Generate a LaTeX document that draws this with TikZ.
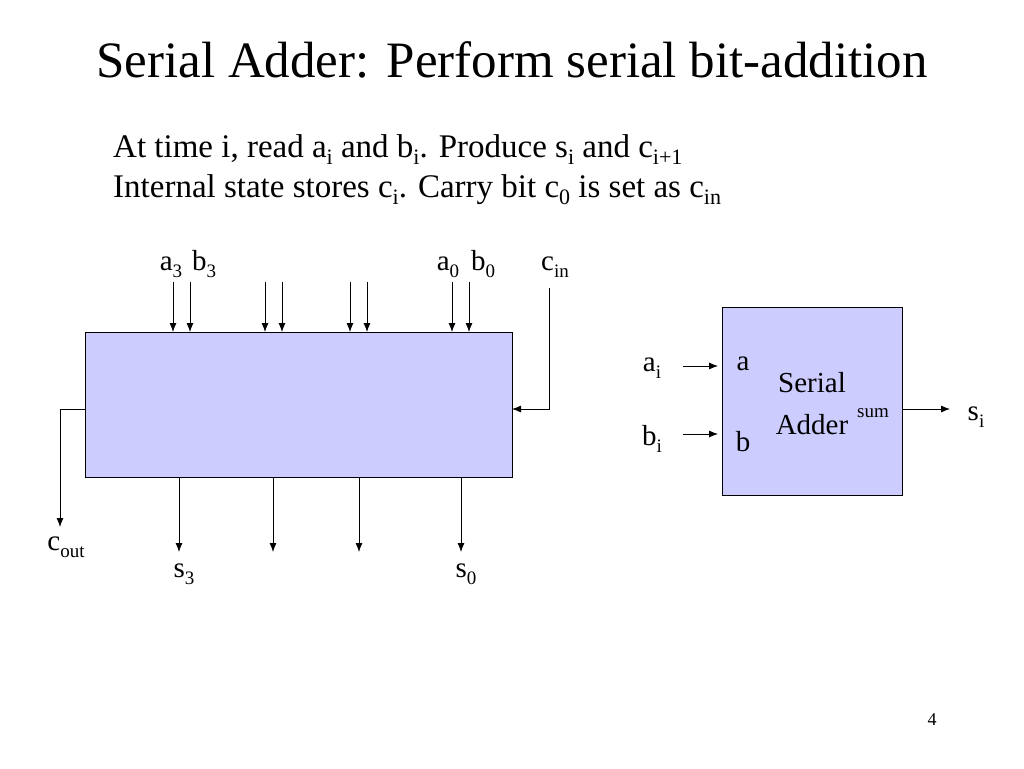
\documentclass[tikz,border=0pt]{standalone}
\usepackage{fontspec}
\setmainfont{Liberation Serif}
\usetikzlibrary{arrows.meta}
\newcommand{\subx}[1]{\raisebox{-0.25em}{\fontsize{19}{20}\selectfont #1}}
\newcommand{\subl}[1]{\raisebox{-0.22em}{\fontsize{22}{22}\selectfont #1}}
\begin{document}
\begin{tikzpicture}[x=1pt,y=-1pt,
  box/.style={draw,fill={rgb,255:red,204;green,204;blue,255},line width=0.8pt},
  arr/.style={-{Latex[length=9pt,width=7pt]},line width=0.8pt},
  lbl/.style={inner sep=0pt,font=\fontsize{29}{32}\selectfont}]
\useasboundingbox (0,0) rectangle (1024,768);
\node[inner sep=0pt,font=\fontsize{51}{54}\selectfont] (title) at (512,60) {Serial Adder: Perform serial bit-addition};
\node[inner sep=0pt,anchor=base west,font=\fontsize{33}{34}\selectfont] (l1) at (113,157) {At time i, read a\subl{i} and b\subl{i}. Produce s\subl{i} and c\subl{i+1}};
\node[inner sep=0pt,anchor=base west,font=\fontsize{33}{34}\selectfont] (l2) at (113,197) {Internal state stores c\subl{i}. Carry bit c\subl{0} is set as c\subl{in}};
\node[box,minimum width=427,minimum height=145,anchor=north west] (big) at (85,332) {};
\foreach \x [count=\i] in {173,190,265,282,350,367,452,469}{
  \coordinate (t\i) at (\x,282);
  \draw[arr] (t\i) -- (\x,332);}
\node[lbl,anchor=base] (a3) at (171,270) {a\subx{3}};
\node[lbl,anchor=base] (b3) at (204,270) {b\subx{3}};
\node[lbl,anchor=base] (a0) at (448,270) {a\subx{0}};
\node[lbl,anchor=base] (b0) at (483,270) {b\subx{0}};
\node[lbl,anchor=base] (cin) at (555,270) {c\subx{in}};
\coordinate (cintop) at (549,288);
\draw[arr] (cintop) |- (512,409);
\coordinate (cl) at (85,409);
\draw[arr] (cl) -| (60,527);
\node[lbl,anchor=base] (cout) at (66,550) {c\subx{out}};
\foreach \x [count=\i] in {179,273,359,461}{
  \coordinate (o\i) at (\x,477);
  \draw[arr] (o\i) -- (\x,552);}
\node[lbl,anchor=base] (s3) at (184,577) {s\subx{3}};
\node[lbl,anchor=base] (s0) at (466,577) {s\subx{0}};
\node[box,minimum width=180,minimum height=188,anchor=north west] (sa) at (722,307) {};
\node[lbl,anchor=base] (ai) at (652,371) {a\subx{i}};
\node[lbl,anchor=base] (bi) at (652,445) {b\subx{i}};
\node[lbl,anchor=base] (ain) at (743,370) {a};
\node[lbl,anchor=base] (bin) at (743,451) {b};
\node[lbl,anchor=base] (ser) at (812,392) {Serial};
\node[lbl,anchor=base] (add) at (812,434) {Adder};
\node[inner sep=0pt,anchor=base,font=\fontsize{19}{22}\selectfont] (sum) at (873,417) {sum};
\draw[arr] (683,366) -- (718,366);
\draw[arr] (683,434) -- (718,434);
\draw[arr] (902,409) -- (950,409);
\node[lbl,anchor=base] (si) at (976,420) {s\subx{i}};
\node[inner sep=0pt,font=\fontsize{18}{20}\selectfont] (pg) at (932,720) {4};
\end{tikzpicture}
\end{document}
